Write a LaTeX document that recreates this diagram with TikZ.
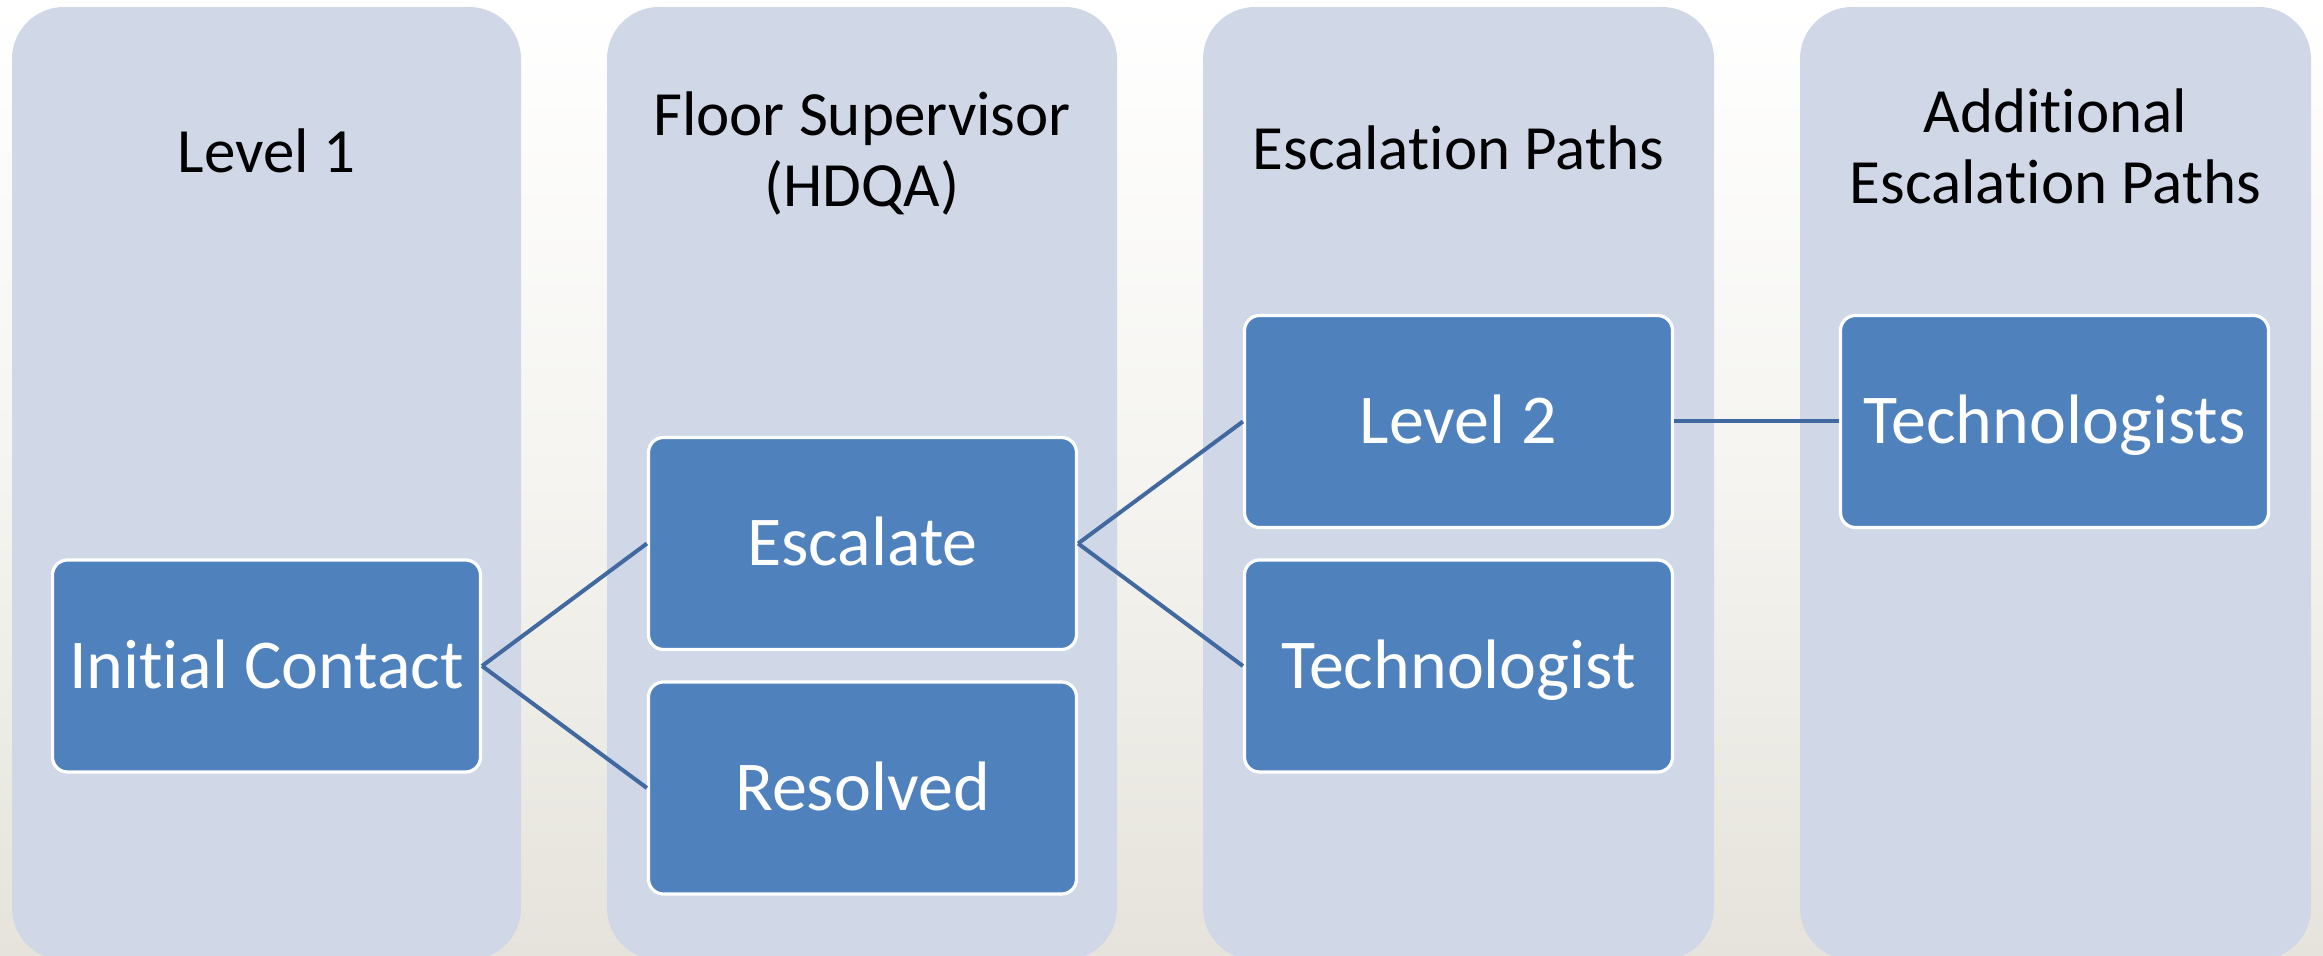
\documentclass[tikz,border=0pt]{standalone}
\usepackage{fontspec}
\setmainfont[Ligatures=NoCommon]{Carlito}
\definecolor{colfill}{RGB}{208,216,232}
\definecolor{boxfill}{RGB}{79,129,189}
\definecolor{linkcol}{RGB}{65,105,160}
\definecolor{bgbottom}{RGB}{229,227,219}
\tikzset{
  column/.style={fill=colfill, draw=none, rounded corners=26pt},
  header/.style={anchor=base, align=center, text=black, font=\fontsize{31.5}{35.5}\selectfont, inner sep=0pt},
  stepbox/.style={draw=white, line width=1.6pt, fill=boxfill, rounded corners=7.5pt,
    minimum width=214pt, minimum height=106pt, inner sep=0pt, text=white,
    font=\fontsize{35}{40}\selectfont, text height=22.5pt, text depth=0pt},
  link/.style={draw=linkcol, line width=2pt}
}
\begin{document}
\begin{tikzpicture}[x=0.5pt,y=-0.5pt]
\useasboundingbox (0,0) rectangle (2323,956);
\shade[top color=white, bottom color=bgbottom, middle color={rgb,255:red,245;green,244;blue,240}] (0,0) rectangle (2323,956);
% columns
\path[column] (12,7) rectangle (521,960);
\path[column] (607,7) rectangle (1117,960);
\path[column] (1203,7) rectangle (1714,960);
\path[column] (1800,7) rectangle (2311,960);
% headers (base = baseline of last line)
\node[header] (h1) at (266.5,173) {Level 1};
\node[header] (h2) at (862,207) {Floor Supervisor\\(HDQA)};
\node[header] (h3) at (1458.5,170) {Escalation Paths};
\node[header] (h4) at (2055.5,204) {Additional\\Escalation Paths};
% boxes
\node[stepbox] (ic) at (266.5,666) {Initial Contact};
\node[stepbox] (esc) at (862.5,543.5) {Escalate};
\node[stepbox] (res) at (862.5,788) {Resolved};
\node[stepbox] (l2) at (1458.5,421.5) {Level 2};
\node[stepbox] (tech) at (1458.5,666) {Technologist};
\node[stepbox] (techs) at (2054.5,421.5) {Technologists};
% links
\draw[link] (ic.east) -- (esc.west);
\draw[link] (ic.east) -- (res.west);
\draw[link] (esc.east) -- (l2.west);
\draw[link] (esc.east) -- (tech.west);
\draw[link] (l2.east) -- (techs.west);
\end{tikzpicture}
\end{document}
